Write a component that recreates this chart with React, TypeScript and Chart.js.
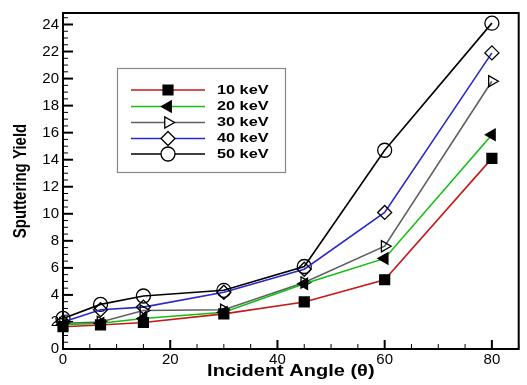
import React, { useEffect, useRef } from "react";
import { Chart, registerables } from "chart.js";

Chart.register(...registerables);

const angles = [0, 7, 15, 30, 45, 60, 80];
const y10 = [1.65, 1.78, 1.96, 2.6, 3.48, 5.12, 14.1];
const y20 = [1.8, 1.9, 2.25, 2.72, 4.82, 6.7, 15.85];
const y30 = [1.9, 2.0, 2.85, 2.9, 4.92, 7.6, 19.8];
const y40 = [2.0, 2.9, 3.1, 4.2, 5.9, 10.1, 21.9];
const y50 = [2.26, 3.3, 3.92, 4.34, 6.1, 14.7, 24.1];

const seriesLabels = ["10 keV", "20 keV", "30 keV", "40 keV", "50 keV"];
const seriesData = [y10, y20, y30, y40, y50];
const lineColors = ["#c41a1a", "#10c010", "#606060", "#2a2ac8", "#000000"];
const markerStyles = ["rect", "triangle", "triangle", "rectRot", "circle"];
const markerRotations = [0, -90, 90, 0, 0];
const markerFilled = [true, true, false, false, false];
const markerRadius = [7, 6.5, 6.5, 7, 7];

const xTicks = [0, 20, 40, 60, 80];
const yTicks = [0, 2, 4, 6, 8, 10, 12, 14, 16, 18, 20, 22, 24];

const FONT = "'Liberation Sans', Arial, sans-serif";

function drawMarker(ctx: CanvasRenderingContext2D, style: string, x: number, y: number, r: number, rotDeg: number, filled: boolean) {
  ctx.save();
  ctx.beginPath();
  const rad = (rotDeg * Math.PI) / 180;
  if (style === "rect") {
    const s = Math.SQRT1_2 * r;
    ctx.rect(x - s, y - s, 2 * s, 2 * s);
  } else if (style === "rectRot") {
    ctx.moveTo(x, y - r);
    ctx.lineTo(x + r, y);
    ctx.lineTo(x, y + r);
    ctx.lineTo(x - r, y);
    ctx.closePath();
  } else if (style === "triangle") {
    let a = rad;
    ctx.moveTo(x + Math.sin(a) * r, y - Math.cos(a) * r);
    a += (2 * Math.PI) / 3;
    ctx.lineTo(x + Math.sin(a) * r, y - Math.cos(a) * r);
    a += (2 * Math.PI) / 3;
    ctx.lineTo(x + Math.sin(a) * r, y - Math.cos(a) * r);
    ctx.closePath();
  } else {
    ctx.arc(x, y, r, 0, Math.PI * 2);
  }
  ctx.fillStyle = filled ? "#000" : "#fff";
  ctx.fill();
  ctx.strokeStyle = "#000";
  ctx.lineWidth = 1.3;
  ctx.stroke();
  ctx.restore();
}

const framePlugin = {
  id: "framePlugin",
  beforeDatasetsDraw(chart: any) {
    const { ctx, chartArea } = chart;
    const xs = chart.scales.x;
    const ys = chart.scales.y;
    ctx.save();
    ctx.strokeStyle = "#000";
    // x ticks inward
    for (let v = 0; v <= 85; v += 5) {
      const px = xs.getPixelForValue(v);
      const major = v % 20 === 0;
      ctx.lineWidth = major ? 2 : 1;
      ctx.beginPath();
      ctx.moveTo(px, chartArea.bottom);
      ctx.lineTo(px, chartArea.bottom - (major ? 9 : 5));
      ctx.stroke();
    }
    for (let i = 0; i <= 49; i++) {
      const v = i * 0.5;
      const py = ys.getPixelForValue(v);
      const major = i % 4 === 0;
      ctx.lineWidth = major ? 2 : 1;
      ctx.beginPath();
      ctx.moveTo(chartArea.left, py);
      ctx.lineTo(chartArea.left + (major ? 10 : 5), py);
      ctx.stroke();
    }
    ctx.lineWidth = 2;
    ctx.strokeRect(chartArea.left, chartArea.top, chartArea.right - chartArea.left, chartArea.bottom - chartArea.top);
    ctx.restore();
  },
  afterDraw(chart: any) {
    const { ctx, chartArea } = chart;
    ctx.save();
    ctx.fillStyle = "#000";
    // x title
    ctx.save();
    ctx.font = `bold 16px ${FONT}`;
    ctx.textAlign = "center";
    ctx.textBaseline = "middle";
    ctx.translate((chartArea.left + chartArea.right) / 2, 372);
    ctx.scale(1.25, 1);
    ctx.fillText("Incident Angle (\u03B8)", 0, 0);
    ctx.restore();
    // y title
    ctx.save();
    ctx.font = `bold 15px ${FONT}`;
    ctx.textAlign = "center";
    ctx.textBaseline = "middle";
    ctx.translate(21, (chartArea.top + chartArea.bottom) / 2);
    ctx.rotate(-Math.PI / 2);
    ctx.scale(1, 1.25);
    ctx.fillText("Sputtering Yield", 0, 0);
    ctx.restore();
    // legend
    const bx = 117, by = 68, bw = 168, bh = 104;
    ctx.fillStyle = "#fff";
    ctx.fillRect(bx, by, bw, bh);
    ctx.strokeStyle = "#888";
    ctx.lineWidth = 1.2;
    ctx.strokeRect(bx + 0.5, by + 0.5, bw, bh);
    const rowsY = [90, 106.5, 122.5, 138.5, 154];
    for (let i = 0; i < seriesLabels.length; i++) {
      const y = rowsY[i];
      ctx.strokeStyle = lineColors[i];
      ctx.lineWidth = 1.6;
      ctx.beginPath();
      ctx.moveTo(131, y);
      ctx.lineTo(205, y);
      ctx.stroke();
      drawMarker(ctx, markerStyles[i], 168, y, markerRadius[i], markerRotations[i], markerFilled[i]);
      ctx.save();
      ctx.fillStyle = "#000";
      ctx.font = `bold 13px ${FONT}`;
      ctx.textAlign = "left";
      ctx.textBaseline = "middle";
      ctx.translate(217, y);
      ctx.scale(1.25, 1);
      ctx.fillText(seriesLabels[i], 0, 0);
      ctx.restore();
    }
    ctx.restore();
  },
};

export default function App() {
  const ref = useRef<HTMLCanvasElement | null>(null);
  useEffect(() => {
    if (!ref.current) return;
    const datasets = seriesLabels.map((label, i) => ({
      label,
      data: angles.map((a, j) => ({ x: a, y: seriesData[i][j] })),
      borderColor: lineColors[i],
      borderWidth: 1.6,
      pointStyle: markerStyles[i],
      pointRotation: markerRotations[i],
      pointRadius: markerRadius[i],
      pointBackgroundColor: markerFilled[i] ? "#000" : "rgba(0,0,0,0)",
      pointBorderColor: "#000",
      pointBorderWidth: 1.3,
      tension: 0,
      fill: false,
      clip: false as any,
    }));
    const chart = new Chart(ref.current, {
      type: "line",
      data: { datasets },
      plugins: [framePlugin],
      options: {
        animation: false,
        responsive: false,
        maintainAspectRatio: false,
        layout: { padding: { top: 11, right: 2, left: 0, bottom: 0 } },
        plugins: { legend: { display: false }, tooltip: { enabled: false } },
        scales: {
          x: {
            type: "linear",
            min: 0,
            max: 85,
            grid: { display: false, drawTicks: false },
            border: { display: false },
            afterBuildTicks: (s: any) => {
              s.ticks = xTicks.map((v) => ({ value: v }));
            },
            afterFit: (s: any) => {
              s.height = 36;
            },
            ticks: {
              color: "#000",
              padding: 2,
              maxRotation: 0,
              font: { family: FONT, size: 15 },
            },
          },
          y: {
            type: "linear",
            min: 0,
            max: 24.85,
            grid: { display: false, drawTicks: false },
            border: { display: false },
            afterBuildTicks: (s: any) => {
              s.ticks = yTicks.map((v) => ({ value: v }));
            },
            afterFit: (s: any) => {
              s.width = 63;
            },
            ticks: {
              color: "#000",
              padding: 4,
              font: { family: FONT, size: 15 },
            },
          },
        },
      },
    });
    return () => chart.destroy();
  }, []);
  return (
    <div style={{ position: "absolute", left: 0, top: 0, width: 527, height: 385, background: "#fff" }}>
      <canvas ref={ref} width={527} height={385} style={{ display: "block", width: 527, height: 385 }} />
    </div>
  );
}
